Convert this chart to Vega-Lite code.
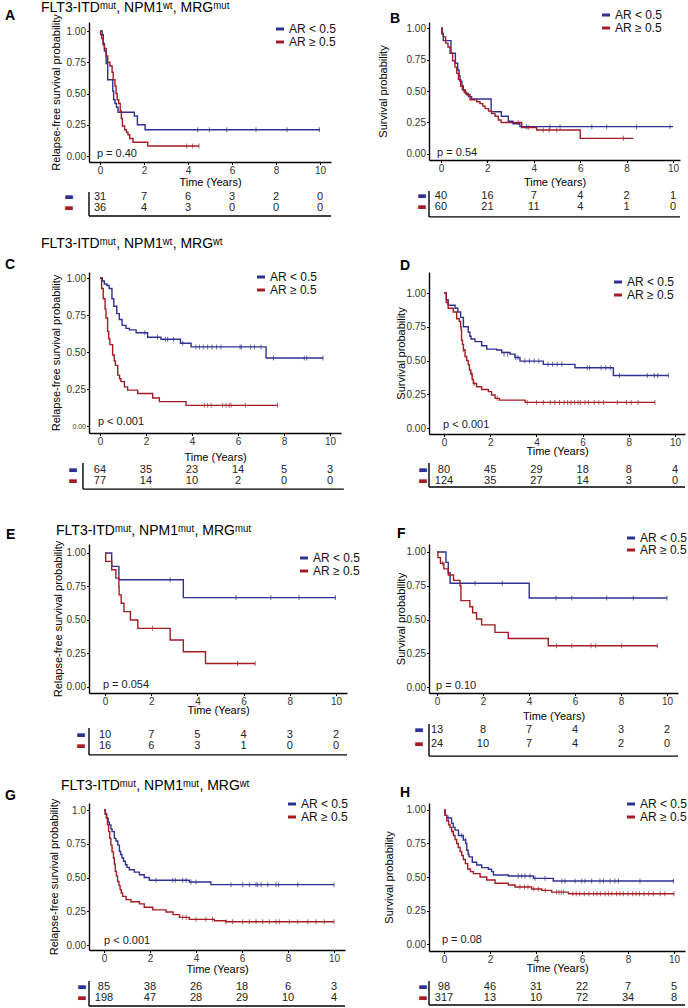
{
"$schema": "https://vega.github.io/schema/vega-lite/v6.json",
"padding": {"left": 4, "top": 1, "right": 0, "bottom": 0},
"background": "white",
"config": {
  "font": "Liberation Sans",
  "view": {"stroke": null},
  "axis": {"grid": false, "labelOverlap": false, "domainColor": "#000", "domainWidth": 1.4, "tickColor": "#000", "tickSize": 2.5, "tickWidth": 1, "labelColor": "#333", "labelFontSize": 10, "labelPadding": 1, "titleFontSize": 11, "titleFontWeight": "normal", "titleColor": "#000"},
  "legend": {"labelFontSize": 12, "labelColor": "#111", "symbolType": "stroke", "symbolStrokeWidth": 3, "symbolSize": 64, "rowPadding": 1, "labelOffset": 3, "padding": 0},
  "text": {"font": "Liberation Sans"}
},
"datasets": {
  "labels": [
    {"panel": "A", "letter": "A", "title": "FLT3-ITDᵐᵘᵗ, NPM1ʷᵗ, MRGᵐᵘᵗ", "p": "p = 0.40"},
    {"panel": "B", "letter": "B", "title": "", "p": "p = 0.54"},
    {"panel": "C", "letter": "C", "title": "FLT3-ITDᵐᵘᵗ, NPM1ʷᵗ, MRGʷᵗ", "p": "p < 0.001"},
    {"panel": "D", "letter": "D", "title": "", "p": "p < 0.001"},
    {"panel": "E", "letter": "E", "title": "FLT3-ITDᵐᵘᵗ, NPM1ᵐᵘᵗ, MRGᵐᵘᵗ", "p": "p = 0.054"},
    {"panel": "F", "letter": "F", "title": "", "p": "p = 0.10"},
    {"panel": "G", "letter": "G", "title": "FLT3-ITDᵐᵘᵗ, NPM1ᵐᵘᵗ, MRGʷᵗ", "p": "p < 0.001"},
    {"panel": "H", "letter": "H", "title": "", "p": "p = 0.08"}
  ],
  "A_km": [
    {"g":"lo","t":0,"s":1},{"g":"lo","t":0.1,"s":0.97},{"g":"lo","t":0.15,"s":0.9},{"g":"lo","t":0.2,"s":0.84},{"g":"lo","t":0.28,"s":0.74},{"g":"lo","t":0.35,"s":0.61},{"g":"lo","t":0.58,"s":0.52},{"g":"lo","t":0.62,"s":0.45},{"g":"lo","t":0.68,"s":0.42},{"g":"lo","t":0.75,"s":0.39},{"g":"lo","t":0.82,"s":0.35},{"g":"lo","t":1.56,"s":0.32},{"g":"lo","t":1.7,"s":0.25},{"g":"lo","t":2.05,"s":0.21},{"g":"lo","t":10,"s":0.21},
    {"g":"hi","t":0,"s":1},{"g":"hi","t":0.03,"s":0.97},{"g":"hi","t":0.08,"s":0.94},{"g":"hi","t":0.14,"s":0.89},{"g":"hi","t":0.2,"s":0.86},{"g":"hi","t":0.28,"s":0.8},{"g":"hi","t":0.35,"s":0.75},{"g":"hi","t":0.45,"s":0.72},{"g":"hi","t":0.55,"s":0.67},{"g":"hi","t":0.6,"s":0.61},{"g":"hi","t":0.68,"s":0.56},{"g":"hi","t":0.73,"s":0.5},{"g":"hi","t":0.78,"s":0.45},{"g":"hi","t":0.85,"s":0.42},{"g":"hi","t":0.92,"s":0.36},{"g":"hi","t":0.97,"s":0.3},{"g":"hi","t":1.02,"s":0.24},{"g":"hi","t":1.12,"s":0.21},{"g":"hi","t":1.2,"s":0.19},{"g":"hi","t":1.27,"s":0.17},{"g":"hi","t":1.35,"s":0.14},{"g":"hi","t":1.5,"s":0.11},{"g":"hi","t":2.17,"s":0.08},{"g":"hi","t":4.5,"s":0.08}
  ],
  "A_cx": [
    {"g":"lo","t":4.44,"s":0.21},{"g":"lo","t":4.97,"s":0.21},{"g":"lo","t":5.76,"s":0.21},{"g":"lo","t":7.09,"s":0.21},{"g":"lo","t":8.5,"s":0.21},{"g":"lo","t":9.97,"s":0.21},
    {"g":"hi","t":3.94,"s":0.08},{"g":"hi","t":4.2,"s":0.08},{"g":"hi","t":4.5,"s":0.08}
  ],
  "A_nr": [
    {"g":"lo","t":0,"n":31},{"g":"lo","t":2,"n":7},{"g":"lo","t":4,"n":6},{"g":"lo","t":6,"n":3},{"g":"lo","t":8,"n":2},{"g":"lo","t":10,"n":0},
    {"g":"hi","t":0,"n":36},{"g":"hi","t":2,"n":4},{"g":"hi","t":4,"n":3},{"g":"hi","t":6,"n":0},{"g":"hi","t":8,"n":0},{"g":"hi","t":10,"n":0}
  ],
  "B_km": [
    {"g":"lo","t":0,"s":1},{"g":"lo","t":0.05,"s":0.95},{"g":"lo","t":0.1,"s":0.9},{"g":"lo","t":0.43,"s":0.8},{"g":"lo","t":0.62,"s":0.72},{"g":"lo","t":0.72,"s":0.667},{"g":"lo","t":0.78,"s":0.62},{"g":"lo","t":0.82,"s":0.577},{"g":"lo","t":0.9,"s":0.54},{"g":"lo","t":0.96,"s":0.508},{"g":"lo","t":1.05,"s":0.48},{"g":"lo","t":1.18,"s":0.455},{"g":"lo","t":1.32,"s":0.437},{"g":"lo","t":2.16,"s":0.335},{"g":"lo","t":2.6,"s":0.3},{"g":"lo","t":2.9,"s":0.26},{"g":"lo","t":3.1,"s":0.24},{"g":"lo","t":3.4,"s":0.217},{"g":"lo","t":10,"s":0.217},
    {"g":"hi","t":0,"s":1},{"g":"hi","t":0.03,"s":0.96},{"g":"hi","t":0.1,"s":0.93},{"g":"hi","t":0.2,"s":0.88},{"g":"hi","t":0.3,"s":0.85},{"g":"hi","t":0.39,"s":0.8},{"g":"hi","t":0.5,"s":0.74},{"g":"hi","t":0.6,"s":0.69},{"g":"hi","t":0.68,"s":0.64},{"g":"hi","t":0.75,"s":0.59},{"g":"hi","t":0.85,"s":0.54},{"g":"hi","t":0.92,"s":0.51},{"g":"hi","t":1.0,"s":0.49},{"g":"hi","t":1.1,"s":0.47},{"g":"hi","t":1.25,"s":0.43},{"g":"hi","t":1.54,"s":0.415},{"g":"hi","t":1.68,"s":0.4},{"g":"hi","t":1.8,"s":0.38},{"g":"hi","t":1.9,"s":0.36},{"g":"hi","t":2.05,"s":0.34},{"g":"hi","t":2.18,"s":0.32},{"g":"hi","t":2.33,"s":0.3},{"g":"hi","t":2.47,"s":0.27},{"g":"hi","t":2.59,"s":0.25},{"g":"hi","t":3.48,"s":0.21},{"g":"hi","t":4.12,"s":0.19},{"g":"hi","t":6.0,"s":0.124},{"g":"hi","t":8.29,"s":0.124}
  ],
  "B_cx": [
    {"g":"lo","t":3.69,"s":0.217},{"g":"lo","t":4.7,"s":0.217},{"g":"lo","t":5.13,"s":0.217},{"g":"lo","t":6.5,"s":0.217},{"g":"lo","t":7.14,"s":0.217},{"g":"lo","t":8.43,"s":0.217},{"g":"lo","t":9.87,"s":0.217},
    {"g":"hi","t":3.33,"s":0.25},{"g":"hi","t":3.76,"s":0.21},{"g":"hi","t":4.41,"s":0.19},{"g":"hi","t":4.66,"s":0.19},{"g":"hi","t":4.99,"s":0.19},{"g":"hi","t":7.86,"s":0.124}
  ],
  "B_nr": [
    {"g":"lo","t":0,"n":40},{"g":"lo","t":2,"n":16},{"g":"lo","t":4,"n":7},{"g":"lo","t":6,"n":4},{"g":"lo","t":8,"n":2},{"g":"lo","t":10,"n":1},
    {"g":"hi","t":0,"n":60},{"g":"hi","t":2,"n":21},{"g":"hi","t":4,"n":11},{"g":"hi","t":6,"n":4},{"g":"hi","t":8,"n":1},{"g":"hi","t":10,"n":0}
  ],
  "C_km": [
    {"g":"lo","t":0,"s":1},{"g":"lo","t":0.1,"s":0.98},{"g":"lo","t":0.19,"s":0.96},{"g":"lo","t":0.3,"s":0.95},{"g":"lo","t":0.4,"s":0.93},{"g":"lo","t":0.52,"s":0.86},{"g":"lo","t":0.6,"s":0.81},{"g":"lo","t":0.73,"s":0.76},{"g":"lo","t":0.84,"s":0.72},{"g":"lo","t":0.96,"s":0.68},{"g":"lo","t":1.13,"s":0.66},{"g":"lo","t":1.28,"s":0.65},{"g":"lo","t":1.57,"s":0.63},{"g":"lo","t":2.07,"s":0.6},{"g":"lo","t":2.65,"s":0.587},{"g":"lo","t":3.5,"s":0.56},{"g":"lo","t":3.96,"s":0.535},{"g":"lo","t":7.22,"s":0.46},{"g":"lo","t":9.7,"s":0.46},
    {"g":"hi","t":0,"s":1},{"g":"hi","t":0.07,"s":0.93},{"g":"hi","t":0.14,"s":0.86},{"g":"hi","t":0.22,"s":0.79},{"g":"hi","t":0.26,"s":0.73},{"g":"hi","t":0.33,"s":0.64},{"g":"hi","t":0.38,"s":0.59},{"g":"hi","t":0.43,"s":0.55},{"g":"hi","t":0.55,"s":0.48},{"g":"hi","t":0.62,"s":0.44},{"g":"hi","t":0.67,"s":0.41},{"g":"hi","t":0.77,"s":0.344},{"g":"hi","t":0.85,"s":0.32},{"g":"hi","t":0.91,"s":0.3},{"g":"hi","t":1.06,"s":0.265},{"g":"hi","t":1.2,"s":0.243},{"g":"hi","t":1.64,"s":0.22},{"g":"hi","t":2.29,"s":0.19},{"g":"hi","t":2.58,"s":0.165},{"g":"hi","t":3.74,"s":0.14},{"g":"hi","t":7.72,"s":0.14}
  ],
  "C_cx": [
    {"g":"lo","t":1.95,"s":0.63},{"g":"lo","t":2.5,"s":0.6},{"g":"lo","t":2.84,"s":0.587},{"g":"lo","t":2.94,"s":0.587},{"g":"lo","t":3.2,"s":0.587},{"g":"lo","t":3.6,"s":0.56},{"g":"lo","t":4.17,"s":0.535},{"g":"lo","t":4.32,"s":0.535},{"g":"lo","t":4.49,"s":0.535},{"g":"lo","t":4.68,"s":0.535},{"g":"lo","t":4.87,"s":0.535},{"g":"lo","t":5.07,"s":0.535},{"g":"lo","t":5.26,"s":0.535},{"g":"lo","t":6.09,"s":0.535},{"g":"lo","t":6.15,"s":0.535},{"g":"lo","t":6.54,"s":0.535},{"g":"lo","t":6.71,"s":0.535},{"g":"lo","t":7.0,"s":0.535},{"g":"lo","t":7.54,"s":0.46},{"g":"lo","t":8.88,"s":0.46},{"g":"lo","t":8.99,"s":0.46},{"g":"lo","t":9.7,"s":0.46},
    {"g":"hi","t":4.54,"s":0.14},{"g":"hi","t":4.68,"s":0.14},{"g":"hi","t":4.83,"s":0.14},{"g":"hi","t":5.33,"s":0.14},{"g":"hi","t":5.48,"s":0.14},{"g":"hi","t":5.62,"s":0.14},{"g":"hi","t":5.7,"s":0.14},{"g":"hi","t":6.32,"s":0.14},{"g":"hi","t":7.72,"s":0.14}
  ],
  "C_nr": [
    {"g":"lo","t":0,"n":64},{"g":"lo","t":2,"n":35},{"g":"lo","t":4,"n":23},{"g":"lo","t":6,"n":14},{"g":"lo","t":8,"n":5},{"g":"lo","t":10,"n":3},
    {"g":"hi","t":0,"n":77},{"g":"hi","t":2,"n":14},{"g":"hi","t":4,"n":10},{"g":"hi","t":6,"n":2},{"g":"hi","t":8,"n":0},{"g":"hi","t":10,"n":0}
  ],
  "D_km": [
    {"g":"lo","t":0,"s":1},{"g":"lo","t":0.1,"s":0.95},{"g":"lo","t":0.18,"s":0.91},{"g":"lo","t":0.48,"s":0.887},{"g":"lo","t":0.6,"s":0.86},{"g":"lo","t":0.72,"s":0.82},{"g":"lo","t":0.84,"s":0.75},{"g":"lo","t":1.05,"s":0.71},{"g":"lo","t":1.12,"s":0.68},{"g":"lo","t":1.17,"s":0.66},{"g":"lo","t":1.34,"s":0.64},{"g":"lo","t":1.63,"s":0.61},{"g":"lo","t":1.85,"s":0.585},{"g":"lo","t":2.28,"s":0.578},{"g":"lo","t":2.5,"s":0.56},{"g":"lo","t":2.86,"s":0.548},{"g":"lo","t":3.07,"s":0.523},{"g":"lo","t":3.29,"s":0.496},{"g":"lo","t":4.3,"s":0.472},{"g":"lo","t":5.67,"s":0.447},{"g":"lo","t":7.33,"s":0.389},{"g":"lo","t":9.71,"s":0.389},
    {"g":"hi","t":0,"s":1},{"g":"hi","t":0.1,"s":0.93},{"g":"hi","t":0.18,"s":0.887},{"g":"hi","t":0.4,"s":0.86},{"g":"hi","t":0.55,"s":0.81},{"g":"hi","t":0.66,"s":0.79},{"g":"hi","t":0.72,"s":0.75},{"g":"hi","t":0.74,"s":0.726},{"g":"hi","t":0.76,"s":0.65},{"g":"hi","t":0.8,"s":0.62},{"g":"hi","t":0.84,"s":0.58},{"g":"hi","t":0.91,"s":0.53},{"g":"hi","t":0.98,"s":0.5},{"g":"hi","t":1.05,"s":0.47},{"g":"hi","t":1.1,"s":0.43},{"g":"hi","t":1.16,"s":0.4},{"g":"hi","t":1.22,"s":0.36},{"g":"hi","t":1.27,"s":0.33},{"g":"hi","t":1.41,"s":0.306},{"g":"hi","t":1.63,"s":0.286},{"g":"hi","t":1.92,"s":0.27},{"g":"hi","t":2.06,"s":0.245},{"g":"hi","t":2.21,"s":0.22},{"g":"hi","t":2.4,"s":0.207},{"g":"hi","t":3.51,"s":0.19},{"g":"hi","t":9.13,"s":0.19}
  ],
  "D_cx": [
    {"g":"lo","t":2.6,"s":0.548},{"g":"lo","t":2.75,"s":0.548},{"g":"lo","t":3.1,"s":0.523},{"g":"lo","t":3.2,"s":0.523},{"g":"lo","t":3.5,"s":0.496},{"g":"lo","t":3.7,"s":0.496},{"g":"lo","t":3.9,"s":0.496},{"g":"lo","t":4.1,"s":0.496},{"g":"lo","t":4.5,"s":0.472},{"g":"lo","t":4.7,"s":0.472},{"g":"lo","t":4.9,"s":0.472},{"g":"lo","t":5.1,"s":0.472},{"g":"lo","t":6.2,"s":0.447},{"g":"lo","t":6.3,"s":0.447},{"g":"lo","t":6.8,"s":0.447},{"g":"lo","t":7.0,"s":0.447},{"g":"lo","t":7.2,"s":0.447},{"g":"lo","t":7.6,"s":0.389},{"g":"lo","t":8.8,"s":0.389},{"g":"lo","t":9.1,"s":0.389},{"g":"lo","t":9.25,"s":0.389},{"g":"lo","t":9.71,"s":0.389},
    {"g":"hi","t":0.84,"s":0.58},{"g":"hi","t":1.2,"s":0.4},{"g":"hi","t":1.3,"s":0.33},{"g":"hi","t":2.3,"s":0.22},{"g":"hi","t":3.6,"s":0.19},{"g":"hi","t":4.0,"s":0.19},{"g":"hi","t":4.3,"s":0.19},{"g":"hi","t":4.6,"s":0.19},{"g":"hi","t":4.8,"s":0.19},{"g":"hi","t":5.0,"s":0.19},{"g":"hi","t":5.2,"s":0.19},{"g":"hi","t":5.35,"s":0.19},{"g":"hi","t":5.5,"s":0.19},{"g":"hi","t":5.65,"s":0.19},{"g":"hi","t":5.8,"s":0.19},{"g":"hi","t":5.9,"s":0.19},{"g":"hi","t":6.1,"s":0.19},{"g":"hi","t":6.25,"s":0.19},{"g":"hi","t":6.5,"s":0.19},{"g":"hi","t":6.7,"s":0.19},{"g":"hi","t":6.9,"s":0.19},{"g":"hi","t":7.5,"s":0.19},{"g":"hi","t":7.9,"s":0.19},{"g":"hi","t":8.1,"s":0.19},{"g":"hi","t":8.4,"s":0.19},{"g":"hi","t":9.13,"s":0.19}
  ],
  "D_nr": [
    {"g":"lo","t":0,"n":80},{"g":"lo","t":2,"n":45},{"g":"lo","t":4,"n":29},{"g":"lo","t":6,"n":18},{"g":"lo","t":8,"n":8},{"g":"lo","t":10,"n":4},
    {"g":"hi","t":0,"n":124},{"g":"hi","t":2,"n":35},{"g":"hi","t":4,"n":27},{"g":"hi","t":6,"n":14},{"g":"hi","t":8,"n":3},{"g":"hi","t":10,"n":0}
  ],
  "E_km": [
    {"g":"lo","t":0,"s":1},{"g":"lo","t":0.29,"s":0.9},{"g":"lo","t":0.6,"s":0.8},{"g":"lo","t":3.39,"s":0.667},{"g":"lo","t":10,"s":0.667},
    {"g":"hi","t":0,"s":1},{"g":"hi","t":0.03,"s":0.9375},{"g":"hi","t":0.29,"s":0.875},{"g":"hi","t":0.47,"s":0.8125},{"g":"hi","t":0.6,"s":0.75},{"g":"hi","t":0.61,"s":0.6875},{"g":"hi","t":0.7,"s":0.625},{"g":"hi","t":0.82,"s":0.5625},{"g":"hi","t":1.1,"s":0.5},{"g":"hi","t":1.42,"s":0.4375},{"g":"hi","t":2.82,"s":0.35},{"g":"hi","t":3.39,"s":0.2625},{"g":"hi","t":4.35,"s":0.175},{"g":"hi","t":6.5,"s":0.175}
  ],
  "E_cx": [
    {"g":"lo","t":2.82,"s":0.8},{"g":"lo","t":5.67,"s":0.667},{"g":"lo","t":7.18,"s":0.667},{"g":"lo","t":8.4,"s":0.667},{"g":"lo","t":9.97,"s":0.667},
    {"g":"hi","t":2.06,"s":0.4375},{"g":"hi","t":5.74,"s":0.175},{"g":"hi","t":6.5,"s":0.175}
  ],
  "E_nr": [
    {"g":"lo","t":0,"n":10},{"g":"lo","t":2,"n":7},{"g":"lo","t":4,"n":5},{"g":"lo","t":6,"n":4},{"g":"lo","t":8,"n":3},{"g":"lo","t":10,"n":2},
    {"g":"hi","t":0,"n":16},{"g":"hi","t":2,"n":6},{"g":"hi","t":4,"n":3},{"g":"hi","t":6,"n":1},{"g":"hi","t":8,"n":0},{"g":"hi","t":10,"n":0}
  ],
  "F_km": [
    {"g":"lo","t":0,"s":1},{"g":"lo","t":0.39,"s":0.923},{"g":"lo","t":0.49,"s":0.846},{"g":"lo","t":0.57,"s":0.769},{"g":"lo","t":4.01,"s":0.659},{"g":"lo","t":10,"s":0.659},
    {"g":"hi","t":0,"s":1},{"g":"hi","t":0.04,"s":0.958},{"g":"hi","t":0.15,"s":0.917},{"g":"hi","t":0.3,"s":0.875},{"g":"hi","t":0.49,"s":0.83},{"g":"hi","t":0.72,"s":0.79},{"g":"hi","t":1.0,"s":0.75},{"g":"hi","t":1.04,"s":0.64},{"g":"hi","t":1.43,"s":0.595},{"g":"hi","t":1.55,"s":0.55},{"g":"hi","t":1.72,"s":0.504},{"g":"hi","t":1.94,"s":0.46},{"g":"hi","t":2.52,"s":0.405},{"g":"hi","t":3.1,"s":0.36},{"g":"hi","t":4.84,"s":0.306},{"g":"hi","t":9.58,"s":0.306}
  ],
  "F_cx": [
    {"g":"lo","t":1.65,"s":0.769},{"g":"lo","t":2.84,"s":0.769},{"g":"lo","t":5.17,"s":0.659},{"g":"lo","t":5.86,"s":0.659},{"g":"lo","t":7.38,"s":0.659},{"g":"lo","t":8.54,"s":0.659},{"g":"lo","t":10,"s":0.659},
    {"g":"hi","t":0.25,"s":0.917},{"g":"hi","t":5.2,"s":0.306},{"g":"hi","t":5.86,"s":0.306},{"g":"hi","t":6.7,"s":0.306},{"g":"hi","t":6.9,"s":0.306},{"g":"hi","t":8.03,"s":0.306},{"g":"hi","t":9.58,"s":0.306}
  ],
  "F_nr": [
    {"g":"lo","t":0,"n":13},{"g":"lo","t":2,"n":8},{"g":"lo","t":4,"n":7},{"g":"lo","t":6,"n":4},{"g":"lo","t":8,"n":3},{"g":"lo","t":10,"n":2},
    {"g":"hi","t":0,"n":24},{"g":"hi","t":2,"n":10},{"g":"hi","t":4,"n":7},{"g":"hi","t":6,"n":4},{"g":"hi","t":8,"n":2},{"g":"hi","t":10,"n":0}
  ],
  "G_km": [
    {"g":"lo","t":0,"s":1},{"g":"lo","t":0.06,"s":0.97},{"g":"lo","t":0.12,"s":0.94},{"g":"lo","t":0.18,"s":0.91},{"g":"lo","t":0.23,"s":0.89},{"g":"lo","t":0.3,"s":0.86},{"g":"lo","t":0.35,"s":0.84},{"g":"lo","t":0.45,"s":0.79},{"g":"lo","t":0.52,"s":0.77},{"g":"lo","t":0.6,"s":0.74},{"g":"lo","t":0.67,"s":0.695},{"g":"lo","t":0.72,"s":0.67},{"g":"lo","t":0.78,"s":0.645},{"g":"lo","t":0.85,"s":0.62},{"g":"lo","t":0.93,"s":0.594},{"g":"lo","t":1.0,"s":0.575},{"g":"lo","t":1.1,"s":0.558},{"g":"lo","t":1.32,"s":0.54},{"g":"lo","t":1.54,"s":0.52},{"g":"lo","t":1.75,"s":0.5},{"g":"lo","t":1.97,"s":0.48},{"g":"lo","t":3.71,"s":0.467},{"g":"lo","t":4.65,"s":0.447},{"g":"lo","t":10,"s":0.447},
    {"g":"hi","t":0,"s":1},{"g":"hi","t":0.05,"s":0.97},{"g":"hi","t":0.1,"s":0.94},{"g":"hi","t":0.15,"s":0.89},{"g":"hi","t":0.2,"s":0.84},{"g":"hi","t":0.25,"s":0.79},{"g":"hi","t":0.3,"s":0.74},{"g":"hi","t":0.35,"s":0.69},{"g":"hi","t":0.41,"s":0.645},{"g":"hi","t":0.45,"s":0.6},{"g":"hi","t":0.49,"s":0.546},{"g":"hi","t":0.54,"s":0.51},{"g":"hi","t":0.59,"s":0.47},{"g":"hi","t":0.65,"s":0.44},{"g":"hi","t":0.7,"s":0.41},{"g":"hi","t":0.75,"s":0.385},{"g":"hi","t":0.81,"s":0.36},{"g":"hi","t":0.96,"s":0.336},{"g":"hi","t":1.17,"s":0.32},{"g":"hi","t":1.54,"s":0.305},{"g":"hi","t":1.75,"s":0.28},{"g":"hi","t":2.12,"s":0.26},{"g":"hi","t":2.7,"s":0.245},{"g":"hi","t":3.0,"s":0.225},{"g":"hi","t":3.28,"s":0.205},{"g":"hi","t":3.71,"s":0.19},{"g":"hi","t":4.8,"s":0.18},{"g":"hi","t":5.3,"s":0.172},{"g":"hi","t":10,"s":0.172}
  ],
  "G_cx": [
    {"g":"lo","t":2.26,"s":0.48},{"g":"lo","t":2.99,"s":0.48},{"g":"lo","t":3.1,"s":0.48},{"g":"lo","t":3.42,"s":0.48},{"g":"lo","t":3.57,"s":0.48},{"g":"lo","t":3.78,"s":0.467},{"g":"lo","t":4.0,"s":0.467},{"g":"lo","t":5.52,"s":0.447},{"g":"lo","t":6.03,"s":0.447},{"g":"lo","t":6.32,"s":0.447},{"g":"lo","t":6.61,"s":0.447},{"g":"lo","t":6.68,"s":0.447},{"g":"lo","t":6.83,"s":0.447},{"g":"lo","t":7.12,"s":0.447},{"g":"lo","t":7.48,"s":0.447},{"g":"lo","t":7.59,"s":0.447},{"g":"lo","t":8.42,"s":0.447},{"g":"lo","t":10,"s":0.447},
    {"g":"hi","t":3.42,"s":0.205},{"g":"hi","t":3.57,"s":0.205},{"g":"hi","t":4.0,"s":0.19},{"g":"hi","t":4.43,"s":0.19},{"g":"hi","t":4.72,"s":0.19},{"g":"hi","t":5.3,"s":0.172},{"g":"hi","t":5.59,"s":0.172},{"g":"hi","t":6.03,"s":0.172},{"g":"hi","t":6.32,"s":0.172},{"g":"hi","t":6.61,"s":0.172},{"g":"hi","t":6.9,"s":0.172},{"g":"hi","t":7.19,"s":0.172},{"g":"hi","t":7.48,"s":0.172},{"g":"hi","t":7.62,"s":0.172},{"g":"hi","t":8.06,"s":0.172},{"g":"hi","t":8.42,"s":0.172},{"g":"hi","t":8.86,"s":0.172},{"g":"hi","t":9.22,"s":0.172},{"g":"hi","t":9.58,"s":0.172},{"g":"hi","t":10,"s":0.172}
  ],
  "G_nr": [
    {"g":"lo","t":0,"n":85},{"g":"lo","t":2,"n":38},{"g":"lo","t":4,"n":26},{"g":"lo","t":6,"n":18},{"g":"lo","t":8,"n":6},{"g":"lo","t":10,"n":3},
    {"g":"hi","t":0,"n":198},{"g":"hi","t":2,"n":47},{"g":"hi","t":4,"n":28},{"g":"hi","t":6,"n":29},{"g":"hi","t":8,"n":10},{"g":"hi","t":10,"n":4}
  ],
  "H_km": [
    {"g":"lo","t":0,"s":1},{"g":"lo","t":0.04,"s":0.96},{"g":"lo","t":0.12,"s":0.94},{"g":"lo","t":0.33,"s":0.9},{"g":"lo","t":0.4,"s":0.87},{"g":"lo","t":0.48,"s":0.85},{"g":"lo","t":0.63,"s":0.81},{"g":"lo","t":0.84,"s":0.776},{"g":"lo","t":0.94,"s":0.75},{"g":"lo","t":0.99,"s":0.7},{"g":"lo","t":1.05,"s":0.67},{"g":"lo","t":1.09,"s":0.65},{"g":"lo","t":1.23,"s":0.61},{"g":"lo","t":1.42,"s":0.59},{"g":"lo","t":1.64,"s":0.57},{"g":"lo","t":1.93,"s":0.558},{"g":"lo","t":2.07,"s":0.54},{"g":"lo","t":2.15,"s":0.515},{"g":"lo","t":2.8,"s":0.507},{"g":"lo","t":3.89,"s":0.49},{"g":"lo","t":4.75,"s":0.47},{"g":"lo","t":10,"s":0.47},
    {"g":"hi","t":0,"s":1},{"g":"hi","t":0.05,"s":0.96},{"g":"hi","t":0.12,"s":0.92},{"g":"hi","t":0.2,"s":0.89},{"g":"hi","t":0.26,"s":0.87},{"g":"hi","t":0.33,"s":0.84},{"g":"hi","t":0.41,"s":0.81},{"g":"hi","t":0.48,"s":0.78},{"g":"hi","t":0.55,"s":0.75},{"g":"hi","t":0.62,"s":0.72},{"g":"hi","t":0.7,"s":0.69},{"g":"hi","t":0.77,"s":0.66},{"g":"hi","t":0.84,"s":0.63},{"g":"hi","t":0.93,"s":0.6},{"g":"hi","t":1.03,"s":0.56},{"g":"hi","t":1.15,"s":0.54},{"g":"hi","t":1.28,"s":0.525},{"g":"hi","t":1.57,"s":0.5},{"g":"hi","t":1.86,"s":0.478},{"g":"hi","t":2.22,"s":0.453},{"g":"hi","t":2.8,"s":0.44},{"g":"hi","t":3.09,"s":0.425},{"g":"hi","t":3.81,"s":0.41},{"g":"hi","t":4.25,"s":0.4},{"g":"hi","t":4.68,"s":0.387},{"g":"hi","t":5.41,"s":0.375},{"g":"hi","t":10,"s":0.375}
  ],
  "H_cx": [
    {"g":"lo","t":0.19,"s":0.94},{"g":"lo","t":0.77,"s":0.81},{"g":"lo","t":0.94,"s":0.776},{"g":"lo","t":3.23,"s":0.507},{"g":"lo","t":3.38,"s":0.507},{"g":"lo","t":3.52,"s":0.507},{"g":"lo","t":3.74,"s":0.507},{"g":"lo","t":3.96,"s":0.49},{"g":"lo","t":4.39,"s":0.49},{"g":"lo","t":5.12,"s":0.47},{"g":"lo","t":5.26,"s":0.47},{"g":"lo","t":5.7,"s":0.47},{"g":"lo","t":5.99,"s":0.47},{"g":"lo","t":6.13,"s":0.47},{"g":"lo","t":6.42,"s":0.47},{"g":"lo","t":6.78,"s":0.47},{"g":"lo","t":6.93,"s":0.47},{"g":"lo","t":7.22,"s":0.47},{"g":"lo","t":7.43,"s":0.47},{"g":"lo","t":7.58,"s":0.47},{"g":"lo","t":8.52,"s":0.47},{"g":"lo","t":9.97,"s":0.47},
    {"g":"hi","t":0.35,"s":0.84},{"g":"hi","t":3.3,"s":0.425},{"g":"hi","t":3.5,"s":0.425},{"g":"hi","t":3.65,"s":0.425},{"g":"hi","t":3.9,"s":0.41},{"g":"hi","t":4.1,"s":0.41},{"g":"hi","t":4.4,"s":0.4},{"g":"hi","t":4.9,"s":0.387},{"g":"hi","t":5.0,"s":0.387},{"g":"hi","t":5.1,"s":0.387},{"g":"hi","t":5.2,"s":0.387},{"g":"hi","t":5.6,"s":0.375},{"g":"hi","t":5.75,"s":0.375},{"g":"hi","t":5.9,"s":0.375},{"g":"hi","t":6.1,"s":0.375},{"g":"hi","t":6.3,"s":0.375},{"g":"hi","t":6.5,"s":0.375},{"g":"hi","t":6.65,"s":0.375},{"g":"hi","t":6.8,"s":0.375},{"g":"hi","t":7.0,"s":0.375},{"g":"hi","t":7.15,"s":0.375},{"g":"hi","t":7.3,"s":0.375},{"g":"hi","t":7.5,"s":0.375},{"g":"hi","t":7.65,"s":0.375},{"g":"hi","t":7.8,"s":0.375},{"g":"hi","t":8.0,"s":0.375},{"g":"hi","t":8.2,"s":0.375},{"g":"hi","t":8.35,"s":0.375},{"g":"hi","t":8.5,"s":0.375},{"g":"hi","t":8.7,"s":0.375},{"g":"hi","t":8.9,"s":0.375},{"g":"hi","t":9.1,"s":0.375},{"g":"hi","t":9.4,"s":0.375},{"g":"hi","t":9.6,"s":0.375},{"g":"hi","t":10,"s":0.375}
  ],
  "H_nr": [
    {"g":"lo","t":0,"n":98},{"g":"lo","t":2,"n":46},{"g":"lo","t":4,"n":31},{"g":"lo","t":6,"n":22},{"g":"lo","t":8,"n":7},{"g":"lo","t":10,"n":5},
    {"g":"hi","t":0,"n":317},{"g":"hi","t":2,"n":13},{"g":"hi","t":4,"n":10},{"g":"hi","t":6,"n":72},{"g":"hi","t":8,"n":34},{"g":"hi","t":10,"n":8}
  ]
},
"columns": 2,
"bounds": "flush",
"align": "each",
"spacing": {"row": 110, "column": 82},
"resolve": {"scale": {"color": "independent"}, "legend": {"color": "independent"}},
"concat": [
 {"width": 242, "height": 140,
  "layer": [
    {"data": {"name": "A_km"}, "mark": {"type": "line", "interpolate": "step-after", "strokeWidth": 1.4},
     "encoding": {
      "x": {"field": "t", "type": "quantitative", "scale": {"domain": [-0.5, 10.5], "nice": false, "zero": false}, "axis": {"values": [0,2,4,6,8,10], "title": "Time (Years)", "titlePadding": 1}},
      "y": {"field": "s", "type": "quantitative", "scale": {"domain": [-0.048, 1.072], "nice": false, "zero": false}, "axis": {"values": [0,0.25,0.5,0.75,1], "format": ".2f", "title": "Relapse-free survival probability", "titlePadding": 5}},
      "color": {"field": "g", "type": "nominal", "scale": {"domain": ["lo","hi"], "range": ["#2e3192","#a51d24"]}, "legend": {"orient": "none", "legendX": 185, "legendY": 1, "title": null, "labelExpr": "datum.value == 'lo' ? 'AR < 0.5' : 'AR ≥ 0.5'"}}}},
    {"data": {"name": "A_cx"}, "mark": {"type": "tick", "orient": "vertical", "size": 5, "thickness": 1},
     "encoding": {"x": {"field": "t", "type": "quantitative"}, "y": {"field": "s", "type": "quantitative", "axis": {"values": [0,0.25,0.5,0.75,1], "format": ".2f", "title": "Relapse-free survival probability", "titlePadding": 5}}, "color": {"field": "g", "type": "nominal", "legend": null}}},
    {"data": {"name": "A_nr"}, "transform": [{"filter": "datum.g == 'lo'"}], "mark": {"type": "text", "fontSize": 11, "color": "#222"},
     "encoding": {"x": {"field": "t", "type": "quantitative"}, "y": {"datum": -0.328, "axis": {"values": [0,0.25,0.5,0.75,1], "format": ".2f", "title": "Relapse-free survival probability", "titlePadding": 5}}, "text": {"field": "n", "type": "quantitative"}}},
    {"data": {"name": "A_nr"}, "transform": [{"filter": "datum.g == 'hi'"}], "mark": {"type": "text", "fontSize": 11, "color": "#222"},
     "encoding": {"x": {"field": "t", "type": "quantitative"}, "y": {"datum": -0.416, "axis": {"values": [0,0.25,0.5,0.75,1], "format": ".2f", "title": "Relapse-free survival probability", "titlePadding": 5}}, "text": {"field": "n", "type": "quantitative"}}},
    {"data": {"name": "labels"}, "transform": [{"filter": "datum.panel == 'A'"}], "mark": {"type": "text", "text": "▬", "font": "DejaVu Sans", "fontSize": 10, "color": "#2e3192"},
     "encoding": {"x": {"datum": -1.41}, "y": {"datum": -0.328, "axis": {"values": [0,0.25,0.5,0.75,1], "format": ".2f", "title": "Relapse-free survival probability", "titlePadding": 5}}}},
    {"data": {"name": "labels"}, "transform": [{"filter": "datum.panel == 'A'"}], "mark": {"type": "text", "text": "▬", "font": "DejaVu Sans", "fontSize": 10, "color": "#a51d24"},
     "encoding": {"x": {"datum": -1.41}, "y": {"datum": -0.416, "axis": {"values": [0,0.25,0.5,0.75,1], "format": ".2f", "title": "Relapse-free survival probability", "titlePadding": 5}}}},
    {"data": {"name": "labels"}, "transform": [{"filter": "datum.panel == 'A'"}], "mark": {"type": "rule", "strokeWidth": 1.4, "color": "#000"},
     "encoding": {"x": {"datum": -0.5}, "y": {"datum": -0.288, "axis": {"values": [0,0.25,0.5,0.75,1], "format": ".2f", "title": "Relapse-free survival probability", "titlePadding": 5}}, "y2": {"datum": -0.48}}},
    {"data": {"name": "labels"}, "transform": [{"filter": "datum.panel == 'A'"}], "mark": {"type": "rule", "strokeWidth": 1.4, "color": "#000"},
     "encoding": {"x": {"datum": -0.5}, "x2": {"datum": 10.5}, "y": {"datum": -0.48, "axis": {"values": [0,0.25,0.5,0.75,1], "format": ".2f", "title": "Relapse-free survival probability", "titlePadding": 5}}}},
    {"data": {"name": "labels"}, "transform": [{"filter": "datum.panel == 'A'"}], "mark": {"type": "text", "align": "left", "baseline": "alphabetic", "fontSize": 14, "fontWeight": "bold", "color": "#000"},
     "encoding": {"x": {"datum": -4.32}, "y": {"datum": 1.088, "axis": {"values": [0,0.25,0.5,0.75,1], "format": ".2f", "title": "Relapse-free survival probability", "titlePadding": 5}}, "text": {"field": "letter", "type": "nominal"}}},
    {"data": {"name": "labels"}, "transform": [{"filter": "datum.panel == 'A'"}], "mark": {"type": "text", "align": "left", "baseline": "alphabetic", "fontSize": 14, "color": "#000"},
     "encoding": {"x": {"datum": -2.68}, "y": {"datum": 1.152, "axis": {"values": [0,0.25,0.5,0.75,1], "format": ".2f", "title": "Relapse-free survival probability", "titlePadding": 5}}, "text": {"field": "title", "type": "nominal"}}},
    {"data": {"name": "labels"}, "transform": [{"filter": "datum.panel == 'A'"}], "mark": {"type": "text", "align": "left", "baseline": "middle", "fontSize": 11, "color": "#222"},
     "encoding": {"x": {"datum": -0.14}, "y": {"datum": 0.016, "axis": {"values": [0,0.25,0.5,0.75,1], "format": ".2f", "title": "Relapse-free survival probability", "titlePadding": 5}}, "text": {"field": "p", "type": "nominal"}}}
  ]},
 {"width": 251, "height": 138,
  "layer": [
    {"data": {"name": "B_km"}, "mark": {"type": "line", "interpolate": "step-after", "strokeWidth": 1.4},
     "encoding": {
      "x": {"field": "t", "type": "quantitative", "scale": {"domain": [-0.517, 10.3], "nice": false, "zero": false}, "axis": {"values": [0,2,4,6,8,10], "title": "Time (Years)", "titlePadding": 3}},
      "y": {"field": "s", "type": "quantitative", "scale": {"domain": [-0.048, 1.048], "nice": false, "zero": false}, "axis": {"values": [0,0.25,0.5,0.75,1], "format": ".2f", "title": "Survival probability", "titlePadding": 18}},
      "color": {"field": "g", "type": "nominal", "scale": {"domain": ["lo","hi"], "range": ["#2e3192","#a51d24"]}, "legend": {"orient": "none", "legendX": 171, "legendY": -13, "title": null, "labelExpr": "datum.value == 'lo' ? 'AR < 0.5' : 'AR ≥ 0.5'"}}}},
    {"data": {"name": "B_cx"}, "mark": {"type": "tick", "orient": "vertical", "size": 5, "thickness": 1},
     "encoding": {"x": {"field": "t", "type": "quantitative"}, "y": {"field": "s", "type": "quantitative", "axis": {"values": [0,0.25,0.5,0.75,1], "format": ".2f", "title": "Survival probability", "titlePadding": 18}}, "color": {"field": "g", "type": "nominal", "legend": null}}},
    {"data": {"name": "B_nr"}, "transform": [{"filter": "datum.g == 'lo'"}], "mark": {"type": "text", "fontSize": 11, "color": "#222"},
     "encoding": {"x": {"field": "t", "type": "quantitative"}, "y": {"datum": -0.333, "axis": {"values": [0,0.25,0.5,0.75,1], "format": ".2f", "title": "Survival probability", "titlePadding": 18}}, "text": {"field": "n", "type": "quantitative"}}},
    {"data": {"name": "B_nr"}, "transform": [{"filter": "datum.g == 'hi'"}], "mark": {"type": "text", "fontSize": 11, "color": "#222"},
     "encoding": {"x": {"field": "t", "type": "quantitative"}, "y": {"datum": -0.421, "axis": {"values": [0,0.25,0.5,0.75,1], "format": ".2f", "title": "Survival probability", "titlePadding": 18}}, "text": {"field": "n", "type": "quantitative"}}},
    {"data": {"name": "labels"}, "transform": [{"filter": "datum.panel == 'B'"}], "mark": {"type": "text", "text": "▬", "font": "DejaVu Sans", "fontSize": 10, "color": "#2e3192"},
     "encoding": {"x": {"datum": -0.82}, "y": {"datum": -0.333, "axis": {"values": [0,0.25,0.5,0.75,1], "format": ".2f", "title": "Survival probability", "titlePadding": 18}}}},
    {"data": {"name": "labels"}, "transform": [{"filter": "datum.panel == 'B'"}], "mark": {"type": "text", "text": "▬", "font": "DejaVu Sans", "fontSize": 10, "color": "#a51d24"},
     "encoding": {"x": {"datum": -0.82}, "y": {"datum": -0.421, "axis": {"values": [0,0.25,0.5,0.75,1], "format": ".2f", "title": "Survival probability", "titlePadding": 18}}}},
    {"data": {"name": "labels"}, "transform": [{"filter": "datum.panel == 'B'"}], "mark": {"type": "rule", "strokeWidth": 1.4, "color": "#000"},
     "encoding": {"x": {"datum": -0.517}, "y": {"datum": -0.294, "axis": {"values": [0,0.25,0.5,0.75,1], "format": ".2f", "title": "Survival probability", "titlePadding": 18}}, "y2": {"datum": -0.5}}},
    {"data": {"name": "labels"}, "transform": [{"filter": "datum.panel == 'B'"}], "mark": {"type": "rule", "strokeWidth": 1.4, "color": "#000"},
     "encoding": {"x": {"datum": -0.517}, "x2": {"datum": 10.3}, "y": {"datum": -0.5, "axis": {"values": [0,0.25,0.5,0.75,1], "format": ".2f", "title": "Survival probability", "titlePadding": 18}}}},
    {"data": {"name": "labels"}, "transform": [{"filter": "datum.panel == 'B'"}], "mark": {"type": "text", "align": "left", "baseline": "alphabetic", "fontSize": 14, "fontWeight": "bold", "color": "#000"},
     "encoding": {"x": {"datum": -2.2}, "y": {"datum": 1.04, "axis": {"values": [0,0.25,0.5,0.75,1], "format": ".2f", "title": "Survival probability", "titlePadding": 18}}, "text": {"field": "letter", "type": "nominal"}}},
    {"data": {"name": "labels"}, "transform": [{"filter": "datum.panel == 'B'"}], "mark": {"type": "text", "align": "left", "baseline": "middle", "fontSize": 11, "color": "#222"},
     "encoding": {"x": {"datum": -0.17}, "y": {"datum": 0.01, "axis": {"values": [0,0.25,0.5,0.75,1], "format": ".2f", "title": "Survival probability", "titlePadding": 18}}, "text": {"field": "p", "type": "nominal"}}}
  ]},
 {"width": 252, "height": 161,
  "layer": [
    {"data": {"name": "C_km"}, "mark": {"type": "line", "interpolate": "step-after", "strokeWidth": 1.4},
     "encoding": {
      "x": {"field": "t", "type": "quantitative", "scale": {"domain": [-0.478, 10.478], "nice": false, "zero": false}, "axis": {"values": [0,2,4,6,8,10], "title": "Time (Years)", "titlePadding": 5}},
      "y": {"field": "s", "type": "quantitative", "scale": {"domain": [-0.047, 1.041], "nice": false, "zero": false}, "axis": {"values": [0,0.25,0.5,0.75,1], "format": ".2f", "title": "Relapse-free survival probability", "titlePadding": 5, "labelFontSize": {"condition": {"test": "datum.value == 0", "value": 7}, "value": 10}}},
      "color": {"field": "g", "type": "nominal", "scale": {"domain": ["lo","hi"], "range": ["#2e3192","#a51d24"]}, "legend": {"orient": "none", "legendX": 166, "legendY": -1, "title": null, "labelExpr": "datum.value == 'lo' ? 'AR < 0.5' : 'AR ≥ 0.5'"}}}},
    {"data": {"name": "C_cx"}, "mark": {"type": "tick", "orient": "vertical", "size": 5, "thickness": 1},
     "encoding": {"x": {"field": "t", "type": "quantitative"}, "y": {"field": "s", "type": "quantitative", "axis": {"values": [0,0.25,0.5,0.75,1], "format": ".2f", "title": "Relapse-free survival probability", "titlePadding": 5}}, "color": {"field": "g", "type": "nominal", "legend": null}}},
    {"data": {"name": "C_nr"}, "transform": [{"filter": "datum.g == 'lo'"}], "mark": {"type": "text", "fontSize": 11, "color": "#222"},
     "encoding": {"x": {"field": "t", "type": "quantitative"}, "y": {"datum": -0.297, "axis": {"values": [0,0.25,0.5,0.75,1], "format": ".2f", "title": "Relapse-free survival probability", "titlePadding": 5}}, "text": {"field": "n", "type": "quantitative"}}},
    {"data": {"name": "C_nr"}, "transform": [{"filter": "datum.g == 'hi'"}], "mark": {"type": "text", "fontSize": 11, "color": "#222"},
     "encoding": {"x": {"field": "t", "type": "quantitative"}, "y": {"datum": -0.372, "axis": {"values": [0,0.25,0.5,0.75,1], "format": ".2f", "title": "Relapse-free survival probability", "titlePadding": 5}}, "text": {"field": "n", "type": "quantitative"}}},
    {"data": {"name": "labels"}, "transform": [{"filter": "datum.panel == 'C'"}], "mark": {"type": "text", "text": "▬", "font": "DejaVu Sans", "fontSize": 10, "color": "#2e3192"},
     "encoding": {"x": {"datum": -1.17}, "y": {"datum": -0.297, "axis": {"values": [0,0.25,0.5,0.75,1], "format": ".2f", "title": "Relapse-free survival probability", "titlePadding": 5}}}},
    {"data": {"name": "labels"}, "transform": [{"filter": "datum.panel == 'C'"}], "mark": {"type": "text", "text": "▬", "font": "DejaVu Sans", "fontSize": 10, "color": "#a51d24"},
     "encoding": {"x": {"datum": -1.17}, "y": {"datum": -0.372, "axis": {"values": [0,0.25,0.5,0.75,1], "format": ".2f", "title": "Relapse-free survival probability", "titlePadding": 5}}}},
    {"data": {"name": "labels"}, "transform": [{"filter": "datum.panel == 'C'"}], "mark": {"type": "rule", "strokeWidth": 1.4, "color": "#000"},
     "encoding": {"x": {"datum": -0.74}, "y": {"datum": -0.25, "axis": {"values": [0,0.25,0.5,0.75,1], "format": ".2f", "title": "Relapse-free survival probability", "titlePadding": 5}}, "y2": {"datum": -0.426}}},
    {"data": {"name": "labels"}, "transform": [{"filter": "datum.panel == 'C'"}], "mark": {"type": "rule", "strokeWidth": 1.4, "color": "#000"},
     "encoding": {"x": {"datum": -0.74}, "x2": {"datum": 10.6}, "y": {"datum": -0.426, "axis": {"values": [0,0.25,0.5,0.75,1], "format": ".2f", "title": "Relapse-free survival probability", "titlePadding": 5}}}},
    {"data": {"name": "labels"}, "transform": [{"filter": "datum.panel == 'C'"}], "mark": {"type": "text", "align": "left", "baseline": "alphabetic", "fontSize": 14, "fontWeight": "bold", "color": "#000"},
     "encoding": {"x": {"datum": -4.13}, "y": {"datum": 1.061, "axis": {"values": [0,0.25,0.5,0.75,1], "format": ".2f", "title": "Relapse-free survival probability", "titlePadding": 5}}, "text": {"field": "letter", "type": "nominal"}}},
    {"data": {"name": "labels"}, "transform": [{"filter": "datum.panel == 'C'"}], "mark": {"type": "text", "align": "left", "baseline": "alphabetic", "fontSize": 14, "color": "#000"},
     "encoding": {"x": {"datum": -2.57}, "y": {"datum": 1.203, "axis": {"values": [0,0.25,0.5,0.75,1], "format": ".2f", "title": "Relapse-free survival probability", "titlePadding": 5}}, "text": {"field": "title", "type": "nominal"}}},
    {"data": {"name": "labels"}, "transform": [{"filter": "datum.panel == 'C'"}], "mark": {"type": "text", "align": "left", "baseline": "middle", "fontSize": 11, "color": "#222"},
     "encoding": {"x": {"datum": -0.09}, "y": {"datum": 0.027, "axis": {"values": [0,0.25,0.5,0.75,1], "format": ".2f", "title": "Relapse-free survival probability", "titlePadding": 5}}, "text": {"field": "p", "type": "nominal"}}}
  ]},
 {"width": 256, "height": 162,
  "layer": [
    {"data": {"name": "D_km"}, "mark": {"type": "line", "interpolate": "step-after", "strokeWidth": 1.4},
     "encoding": {
      "x": {"field": "t", "type": "quantitative", "scale": {"domain": [-0.649, 10.43], "nice": false, "zero": false}, "axis": {"values": [0,2,4,6,8,10], "title": "Time (Years)", "titlePadding": -2}},
      "y": {"field": "s", "type": "quantitative", "scale": {"domain": [-0.044, 1.156], "nice": false, "zero": false}, "axis": {"values": [0,0.25,0.5,0.75,1], "format": ".2f", "title": "Survival probability", "titlePadding": 0}},
      "color": {"field": "g", "type": "nominal", "scale": {"domain": ["lo","hi"], "range": ["#2e3192","#a51d24"]}, "legend": {"orient": "none", "legendX": 183, "legendY": 4, "title": null, "labelExpr": "datum.value == 'lo' ? 'AR < 0.5' : 'AR ≥ 0.5'"}}}},
    {"data": {"name": "D_cx"}, "mark": {"type": "tick", "orient": "vertical", "size": 5, "thickness": 1},
     "encoding": {"x": {"field": "t", "type": "quantitative"}, "y": {"field": "s", "type": "quantitative", "axis": {"values": [0,0.25,0.5,0.75,1], "format": ".2f", "title": "Survival probability", "titlePadding": 0}}, "color": {"field": "g", "type": "nominal", "legend": null}}},
    {"data": {"name": "D_nr"}, "transform": [{"filter": "datum.g == 'lo'"}], "mark": {"type": "text", "fontSize": 11, "color": "#222"},
     "encoding": {"x": {"field": "t", "type": "quantitative"}, "y": {"datum": -0.311, "axis": {"values": [0,0.25,0.5,0.75,1], "format": ".2f", "title": "Survival probability", "titlePadding": 0}}, "text": {"field": "n", "type": "quantitative"}}},
    {"data": {"name": "D_nr"}, "transform": [{"filter": "datum.g == 'hi'"}], "mark": {"type": "text", "fontSize": 11, "color": "#222"},
     "encoding": {"x": {"field": "t", "type": "quantitative"}, "y": {"datum": -0.393, "axis": {"values": [0,0.25,0.5,0.75,1], "format": ".2f", "title": "Survival probability", "titlePadding": 0}}, "text": {"field": "n", "type": "quantitative"}}},
    {"data": {"name": "labels"}, "transform": [{"filter": "datum.panel == 'D'"}], "mark": {"type": "text", "text": "▬", "font": "DejaVu Sans", "fontSize": 10, "color": "#2e3192"},
     "encoding": {"x": {"datum": -0.91}, "y": {"datum": -0.311, "axis": {"values": [0,0.25,0.5,0.75,1], "format": ".2f", "title": "Survival probability", "titlePadding": 0}}}},
    {"data": {"name": "labels"}, "transform": [{"filter": "datum.panel == 'D'"}], "mark": {"type": "text", "text": "▬", "font": "DejaVu Sans", "fontSize": 10, "color": "#a51d24"},
     "encoding": {"x": {"datum": -0.91}, "y": {"datum": -0.393, "axis": {"values": [0,0.25,0.5,0.75,1], "format": ".2f", "title": "Survival probability", "titlePadding": 0}}}},
    {"data": {"name": "labels"}, "transform": [{"filter": "datum.panel == 'D'"}], "mark": {"type": "rule", "strokeWidth": 1.4, "color": "#000"},
     "encoding": {"x": {"datum": -0.649}, "y": {"datum": -0.259, "axis": {"values": [0,0.25,0.5,0.75,1], "format": ".2f", "title": "Survival probability", "titlePadding": 0}}, "y2": {"datum": -0.437}}},
    {"data": {"name": "labels"}, "transform": [{"filter": "datum.panel == 'D'"}], "mark": {"type": "rule", "strokeWidth": 1.4, "color": "#000"},
     "encoding": {"x": {"datum": -0.649}, "x2": {"datum": 10.43}, "y": {"datum": -0.437, "axis": {"values": [0,0.25,0.5,0.75,1], "format": ".2f", "title": "Survival probability", "titlePadding": 0}}}},
    {"data": {"name": "labels"}, "transform": [{"filter": "datum.panel == 'D'"}], "mark": {"type": "text", "align": "left", "baseline": "alphabetic", "fontSize": 14, "fontWeight": "bold", "color": "#000"},
     "encoding": {"x": {"datum": -1.9}, "y": {"datum": 1.17, "axis": {"values": [0,0.25,0.5,0.75,1], "format": ".2f", "title": "Survival probability", "titlePadding": 0}}, "text": {"field": "letter", "type": "nominal"}}},
    {"data": {"name": "labels"}, "transform": [{"filter": "datum.panel == 'D'"}], "mark": {"type": "text", "align": "left", "baseline": "middle", "fontSize": 11, "color": "#222"},
     "encoding": {"x": {"datum": -0.04}, "y": {"datum": 0.022, "axis": {"values": [0,0.25,0.5,0.75,1], "format": ".2f", "title": "Survival probability", "titlePadding": 0}}, "text": {"field": "p", "type": "nominal"}}}
  ]},
 {"width": 258, "height": 149,
  "layer": [
    {"data": {"name": "E_km"}, "mark": {"type": "line", "interpolate": "step-after", "strokeWidth": 1.4},
     "encoding": {
      "x": {"field": "t", "type": "quantitative", "scale": {"domain": [-0.693, 10.476], "nice": false, "zero": false}, "axis": {"values": [0,2,4,6,8,10], "title": "Time (Years)", "titlePadding": -2}},
      "y": {"field": "s", "type": "quantitative", "scale": {"domain": [-0.045, 1.067], "nice": false, "zero": false}, "axis": {"values": [0,0.25,0.5,0.75,1], "format": ".2f", "title": "Relapse-free survival probability", "titlePadding": 3}},
      "color": {"field": "g", "type": "nominal", "scale": {"domain": ["lo","hi"], "range": ["#2e3192","#a51d24"]}, "legend": {"orient": "none", "legendX": 209, "legendY": 8, "title": null, "labelExpr": "datum.value == 'lo' ? 'AR < 0.5' : 'AR ≥ 0.5'"}}}},
    {"data": {"name": "E_cx"}, "mark": {"type": "tick", "orient": "vertical", "size": 5, "thickness": 1},
     "encoding": {"x": {"field": "t", "type": "quantitative"}, "y": {"field": "s", "type": "quantitative", "axis": {"values": [0,0.25,0.5,0.75,1], "format": ".2f", "title": "Relapse-free survival probability", "titlePadding": 3}}, "color": {"field": "g", "type": "nominal", "legend": null}}},
    {"data": {"name": "E_nr"}, "transform": [{"filter": "datum.g == 'lo'"}], "mark": {"type": "text", "fontSize": 11, "color": "#222"},
     "encoding": {"x": {"field": "t", "type": "quantitative"}, "y": {"datum": -0.358, "axis": {"values": [0,0.25,0.5,0.75,1], "format": ".2f", "title": "Relapse-free survival probability", "titlePadding": 3}}, "text": {"field": "n", "type": "quantitative"}}},
    {"data": {"name": "E_nr"}, "transform": [{"filter": "datum.g == 'hi'"}], "mark": {"type": "text", "fontSize": 11, "color": "#222"},
     "encoding": {"x": {"field": "t", "type": "quantitative"}, "y": {"datum": -0.44, "axis": {"values": [0,0.25,0.5,0.75,1], "format": ".2f", "title": "Relapse-free survival probability", "titlePadding": 3}}, "text": {"field": "n", "type": "quantitative"}}},
    {"data": {"name": "labels"}, "transform": [{"filter": "datum.panel == 'E'"}], "mark": {"type": "text", "text": "▬", "font": "DejaVu Sans", "fontSize": 10, "color": "#2e3192"},
     "encoding": {"x": {"datum": -1.04}, "y": {"datum": -0.358, "axis": {"values": [0,0.25,0.5,0.75,1], "format": ".2f", "title": "Relapse-free survival probability", "titlePadding": 3}}}},
    {"data": {"name": "labels"}, "transform": [{"filter": "datum.panel == 'E'"}], "mark": {"type": "text", "text": "▬", "font": "DejaVu Sans", "fontSize": 10, "color": "#a51d24"},
     "encoding": {"x": {"datum": -1.04}, "y": {"datum": -0.44, "axis": {"values": [0,0.25,0.5,0.75,1], "format": ".2f", "title": "Relapse-free survival probability", "titlePadding": 3}}}},
    {"data": {"name": "labels"}, "transform": [{"filter": "datum.panel == 'E'"}], "mark": {"type": "rule", "strokeWidth": 1.4, "color": "#000"},
     "encoding": {"x": {"datum": -0.693}, "y": {"datum": -0.306, "axis": {"values": [0,0.25,0.5,0.75,1], "format": ".2f", "title": "Relapse-free survival probability", "titlePadding": 3}}, "y2": {"datum": -0.507}}},
    {"data": {"name": "labels"}, "transform": [{"filter": "datum.panel == 'E'"}], "mark": {"type": "rule", "strokeWidth": 1.4, "color": "#000"},
     "encoding": {"x": {"datum": -0.693}, "x2": {"datum": 10.476}, "y": {"datum": -0.507, "axis": {"values": [0,0.25,0.5,0.75,1], "format": ".2f", "title": "Relapse-free survival probability", "titlePadding": 3}}}},
    {"data": {"name": "labels"}, "transform": [{"filter": "datum.panel == 'E'"}], "mark": {"type": "text", "align": "left", "baseline": "alphabetic", "fontSize": 14, "fontWeight": "bold", "color": "#000"},
     "encoding": {"x": {"datum": -4.29}, "y": {"datum": 1.104, "axis": {"values": [0,0.25,0.5,0.75,1], "format": ".2f", "title": "Relapse-free survival probability", "titlePadding": 3}}, "text": {"field": "letter", "type": "nominal"}}},
    {"data": {"name": "labels"}, "transform": [{"filter": "datum.panel == 'E'"}], "mark": {"type": "text", "align": "left", "baseline": "alphabetic", "fontSize": 14, "color": "#000"},
     "encoding": {"x": {"datum": -2.12}, "y": {"datum": 1.134, "axis": {"values": [0,0.25,0.5,0.75,1], "format": ".2f", "title": "Relapse-free survival probability", "titlePadding": 3}}, "text": {"field": "title", "type": "nominal"}}},
    {"data": {"name": "labels"}, "transform": [{"filter": "datum.panel == 'E'"}], "mark": {"type": "text", "align": "left", "baseline": "middle", "fontSize": 11, "color": "#222"},
     "encoding": {"x": {"datum": -0.09}, "y": {"datum": 0.015, "axis": {"values": [0,0.25,0.5,0.75,1], "format": ".2f", "title": "Relapse-free survival probability", "titlePadding": 3}}, "text": {"field": "p", "type": "nominal"}}}
  ]},
 {"width": 249, "height": 149,
  "layer": [
    {"data": {"name": "F_km"}, "mark": {"type": "line", "interpolate": "step-after", "strokeWidth": 1.4},
     "encoding": {
      "x": {"field": "t", "type": "quantitative", "scale": {"domain": [-0.348, 10.48], "nice": false, "zero": false}, "axis": {"values": [0,2,4,6,8,10], "title": "Time (Years)", "titlePadding": 4}},
      "y": {"field": "s", "type": "quantitative", "scale": {"domain": [-0.044, 1.059], "nice": false, "zero": false}, "axis": {"values": [0,0.25,0.5,0.75,1], "format": ".2f", "title": "Survival probability", "titlePadding": 0}},
      "color": {"field": "g", "type": "nominal", "scale": {"domain": ["lo","hi"], "range": ["#2e3192","#a51d24"]}, "legend": {"orient": "none", "legendX": 196, "legendY": -12, "rowPadding": -2, "title": null, "labelExpr": "datum.value == 'lo' ? 'AR < 0.5' : 'AR ≥ 0.5'"}}}},
    {"data": {"name": "F_cx"}, "mark": {"type": "tick", "orient": "vertical", "size": 5, "thickness": 1},
     "encoding": {"x": {"field": "t", "type": "quantitative"}, "y": {"field": "s", "type": "quantitative", "axis": {"values": [0,0.25,0.5,0.75,1], "format": ".2f", "title": "Survival probability", "titlePadding": 0}}, "color": {"field": "g", "type": "nominal", "legend": null}}},
    {"data": {"name": "F_nr"}, "transform": [{"filter": "datum.g == 'lo'"}], "mark": {"type": "text", "fontSize": 11, "color": "#222"},
     "encoding": {"x": {"field": "t", "type": "quantitative"}, "y": {"datum": -0.319, "axis": {"values": [0,0.25,0.5,0.75,1], "format": ".2f", "title": "Survival probability", "titlePadding": 0}}, "text": {"field": "n", "type": "quantitative"}}},
    {"data": {"name": "F_nr"}, "transform": [{"filter": "datum.g == 'hi'"}], "mark": {"type": "text", "fontSize": 11, "color": "#222"},
     "encoding": {"x": {"field": "t", "type": "quantitative"}, "y": {"datum": -0.422, "axis": {"values": [0,0.25,0.5,0.75,1], "format": ".2f", "title": "Survival probability", "titlePadding": 0}}, "text": {"field": "n", "type": "quantitative"}}},
    {"data": {"name": "labels"}, "transform": [{"filter": "datum.panel == 'F'"}], "mark": {"type": "text", "text": "▬", "font": "DejaVu Sans", "fontSize": 10, "color": "#2e3192"},
     "encoding": {"x": {"datum": -0.78}, "y": {"datum": -0.319, "axis": {"values": [0,0.25,0.5,0.75,1], "format": ".2f", "title": "Survival probability", "titlePadding": 0}}}},
    {"data": {"name": "labels"}, "transform": [{"filter": "datum.panel == 'F'"}], "mark": {"type": "text", "text": "▬", "font": "DejaVu Sans", "fontSize": 10, "color": "#a51d24"},
     "encoding": {"x": {"datum": -0.78}, "y": {"datum": -0.422, "axis": {"values": [0,0.25,0.5,0.75,1], "format": ".2f", "title": "Survival probability", "titlePadding": 0}}}},
    {"data": {"name": "labels"}, "transform": [{"filter": "datum.panel == 'F'"}], "mark": {"type": "rule", "strokeWidth": 1.4, "color": "#000"},
     "encoding": {"x": {"datum": -0.348}, "y": {"datum": -0.274, "axis": {"values": [0,0.25,0.5,0.75,1], "format": ".2f", "title": "Survival probability", "titlePadding": 0}}, "y2": {"datum": -0.511}}},
    {"data": {"name": "labels"}, "transform": [{"filter": "datum.panel == 'F'"}], "mark": {"type": "rule", "strokeWidth": 1.4, "color": "#000"},
     "encoding": {"x": {"datum": -0.348}, "x2": {"datum": 10.48}, "y": {"datum": -0.511, "axis": {"values": [0,0.25,0.5,0.75,1], "format": ".2f", "title": "Survival probability", "titlePadding": 0}}}},
    {"data": {"name": "labels"}, "transform": [{"filter": "datum.panel == 'F'"}], "mark": {"type": "text", "align": "left", "baseline": "alphabetic", "fontSize": 14, "fontWeight": "bold", "color": "#000"},
     "encoding": {"x": {"datum": -1.74}, "y": {"datum": 1.104, "axis": {"values": [0,0.25,0.5,0.75,1], "format": ".2f", "title": "Survival probability", "titlePadding": 0}}, "text": {"field": "letter", "type": "nominal"}}},
    {"data": {"name": "labels"}, "transform": [{"filter": "datum.panel == 'F'"}], "mark": {"type": "text", "align": "left", "baseline": "middle", "fontSize": 11, "color": "#222"},
     "encoding": {"x": {"datum": -0.04}, "y": {"datum": 0.007, "axis": {"values": [0,0.25,0.5,0.75,1], "format": ".2f", "title": "Survival probability", "titlePadding": 0}}, "text": {"field": "p", "type": "nominal"}}}
  ]},
 {"width": 256, "height": 147,
  "layer": [
    {"data": {"name": "G_km"}, "mark": {"type": "line", "interpolate": "step-after", "strokeWidth": 1.4},
     "encoding": {
      "x": {"field": "t", "type": "quantitative", "scale": {"domain": [-0.652, 10.478], "nice": false, "zero": false}, "axis": {"values": [0,2,4,6,8,10], "title": "Time (Years)", "titlePadding": 0}},
      "y": {"field": "s", "type": "quantitative", "scale": {"domain": [-0.037, 1.052], "nice": false, "zero": false}, "axis": {"values": [0,0.25,0.5,0.75,1], "labelExpr": "datum.value == 1 ? '1.0' : format(datum.value, '.2f')", "title": "Relapse-free survival probability", "titlePadding": 7}},
      "color": {"field": "g", "type": "nominal", "scale": {"domain": ["lo","hi"], "range": ["#2e3192","#a51d24"]}, "legend": {"orient": "none", "legendX": 197, "legendY": -5, "title": null, "labelExpr": "datum.value == 'lo' ? 'AR < 0.5' : 'AR ≥ 0.5'"}}}},
    {"data": {"name": "G_cx"}, "mark": {"type": "tick", "orient": "vertical", "size": 5, "thickness": 1},
     "encoding": {"x": {"field": "t", "type": "quantitative"}, "y": {"field": "s", "type": "quantitative", "axis": {"values": [0,0.25,0.5,0.75,1], "labelExpr": "datum.value == 1 ? '1.0' : format(datum.value, '.2f')", "title": "Relapse-free survival probability", "titlePadding": 7}}, "color": {"field": "g", "type": "nominal", "legend": null}}},
    {"data": {"name": "G_nr"}, "transform": [{"filter": "datum.g == 'lo'"}], "mark": {"type": "text", "fontSize": 11, "color": "#222"},
     "encoding": {"x": {"field": "t", "type": "quantitative"}, "y": {"datum": -0.311, "axis": {"values": [0,0.25,0.5,0.75,1], "labelExpr": "datum.value == 1 ? '1.0' : format(datum.value, '.2f')", "title": "Relapse-free survival probability", "titlePadding": 7}}, "text": {"field": "n", "type": "quantitative"}}},
    {"data": {"name": "G_nr"}, "transform": [{"filter": "datum.g == 'hi'"}], "mark": {"type": "text", "fontSize": 11, "color": "#222"},
     "encoding": {"x": {"field": "t", "type": "quantitative"}, "y": {"datum": -0.393, "axis": {"values": [0,0.25,0.5,0.75,1], "labelExpr": "datum.value == 1 ? '1.0' : format(datum.value, '.2f')", "title": "Relapse-free survival probability", "titlePadding": 7}}, "text": {"field": "n", "type": "quantitative"}}},
    {"data": {"name": "labels"}, "transform": [{"filter": "datum.panel == 'G'"}], "mark": {"type": "text", "text": "▬", "font": "DejaVu Sans", "fontSize": 10, "color": "#2e3192"},
     "encoding": {"x": {"datum": -0.96}, "y": {"datum": -0.311, "axis": {"values": [0,0.25,0.5,0.75,1], "labelExpr": "datum.value == 1 ? '1.0' : format(datum.value, '.2f')", "title": "Relapse-free survival probability", "titlePadding": 7}}}},
    {"data": {"name": "labels"}, "transform": [{"filter": "datum.panel == 'G'"}], "mark": {"type": "text", "text": "▬", "font": "DejaVu Sans", "fontSize": 10, "color": "#a51d24"},
     "encoding": {"x": {"datum": -0.96}, "y": {"datum": -0.393, "axis": {"values": [0,0.25,0.5,0.75,1], "labelExpr": "datum.value == 1 ? '1.0' : format(datum.value, '.2f')", "title": "Relapse-free survival probability", "titlePadding": 7}}}},
    {"data": {"name": "labels"}, "transform": [{"filter": "datum.panel == 'G'"}], "mark": {"type": "rule", "strokeWidth": 1.4, "color": "#000"},
     "encoding": {"x": {"datum": -0.652}, "y": {"datum": -0.267, "axis": {"values": [0,0.25,0.5,0.75,1], "labelExpr": "datum.value == 1 ? '1.0' : format(datum.value, '.2f')", "title": "Relapse-free survival probability", "titlePadding": 7}}, "y2": {"datum": -0.452}}},
    {"data": {"name": "labels"}, "transform": [{"filter": "datum.panel == 'G'"}], "mark": {"type": "rule", "strokeWidth": 1.4, "color": "#000"},
     "encoding": {"x": {"datum": -0.652}, "x2": {"datum": 10.478}, "y": {"datum": -0.452, "axis": {"values": [0,0.25,0.5,0.75,1], "labelExpr": "datum.value == 1 ? '1.0' : format(datum.value, '.2f')", "title": "Relapse-free survival probability", "titlePadding": 7}}}},
    {"data": {"name": "labels"}, "transform": [{"filter": "datum.panel == 'G'"}], "mark": {"type": "text", "align": "left", "baseline": "alphabetic", "fontSize": 14, "fontWeight": "bold", "color": "#000"},
     "encoding": {"x": {"datum": -4.3}, "y": {"datum": 1.074, "axis": {"values": [0,0.25,0.5,0.75,1], "labelExpr": "datum.value == 1 ? '1.0' : format(datum.value, '.2f')", "title": "Relapse-free survival probability", "titlePadding": 7}}, "text": {"field": "letter", "type": "nominal"}}},
    {"data": {"name": "labels"}, "transform": [{"filter": "datum.panel == 'G'"}], "mark": {"type": "text", "align": "left", "baseline": "alphabetic", "fontSize": 14, "color": "#000"},
     "encoding": {"x": {"datum": -1.87}, "y": {"datum": 1.148, "axis": {"values": [0,0.25,0.5,0.75,1], "labelExpr": "datum.value == 1 ? '1.0' : format(datum.value, '.2f')", "title": "Relapse-free survival probability", "titlePadding": 7}}, "text": {"field": "title", "type": "nominal"}}},
    {"data": {"name": "labels"}, "transform": [{"filter": "datum.panel == 'G'"}], "mark": {"type": "text", "align": "left", "baseline": "middle", "fontSize": 11, "color": "#222"},
     "encoding": {"x": {"datum": 0}, "y": {"datum": 0.03, "axis": {"values": [0,0.25,0.5,0.75,1], "labelExpr": "datum.value == 1 ? '1.0' : format(datum.value, '.2f')", "title": "Relapse-free survival probability", "titlePadding": 7}}, "text": {"field": "p", "type": "nominal"}}}
  ]},
 {"width": 256, "height": 148,
  "layer": [
    {"data": {"name": "H_km"}, "mark": {"type": "line", "interpolate": "step-after", "strokeWidth": 1.4},
     "encoding": {
      "x": {"field": "t", "type": "quantitative", "scale": {"domain": [-0.652, 10.478], "nice": false, "zero": false}, "axis": {"values": [0,2,4,6,8,10], "title": "Time (Years)", "titlePadding": -2}},
      "y": {"field": "s", "type": "quantitative", "scale": {"domain": [-0.052, 1.052], "nice": false, "zero": false}, "axis": {"values": [0,0.25,0.5,0.75,1], "format": ".2f", "title": "Survival probability", "titlePadding": 12}},
      "color": {"field": "g", "type": "nominal", "scale": {"domain": ["lo","hi"], "range": ["#2e3192","#a51d24"]}, "legend": {"orient": "none", "legendX": 196, "legendY": -5, "title": null, "labelExpr": "datum.value == 'lo' ? 'AR < 0.5' : 'AR ≥ 0.5'"}}}},
    {"data": {"name": "H_cx"}, "mark": {"type": "tick", "orient": "vertical", "size": 5, "thickness": 1},
     "encoding": {"x": {"field": "t", "type": "quantitative"}, "y": {"field": "s", "type": "quantitative", "axis": {"values": [0,0.25,0.5,0.75,1], "format": ".2f", "title": "Survival probability", "titlePadding": 12}}, "color": {"field": "g", "type": "nominal", "legend": null}}},
    {"data": {"name": "H_nr"}, "transform": [{"filter": "datum.g == 'lo'"}], "mark": {"type": "text", "fontSize": 11, "color": "#222"},
     "encoding": {"x": {"field": "t", "type": "quantitative"}, "y": {"datum": -0.321, "axis": {"values": [0,0.25,0.5,0.75,1], "format": ".2f", "title": "Survival probability", "titlePadding": 12}}, "text": {"field": "n", "type": "quantitative"}}},
    {"data": {"name": "H_nr"}, "transform": [{"filter": "datum.g == 'hi'"}], "mark": {"type": "text", "fontSize": 11, "color": "#222"},
     "encoding": {"x": {"field": "t", "type": "quantitative"}, "y": {"datum": -0.403, "axis": {"values": [0,0.25,0.5,0.75,1], "format": ".2f", "title": "Survival probability", "titlePadding": 12}}, "text": {"field": "n", "type": "quantitative"}}},
    {"data": {"name": "labels"}, "transform": [{"filter": "datum.panel == 'H'"}], "mark": {"type": "text", "text": "▬", "font": "DejaVu Sans", "fontSize": 10, "color": "#2e3192"},
     "encoding": {"x": {"datum": -0.91}, "y": {"datum": -0.321, "axis": {"values": [0,0.25,0.5,0.75,1], "format": ".2f", "title": "Survival probability", "titlePadding": 12}}}},
    {"data": {"name": "labels"}, "transform": [{"filter": "datum.panel == 'H'"}], "mark": {"type": "text", "text": "▬", "font": "DejaVu Sans", "fontSize": 10, "color": "#a51d24"},
     "encoding": {"x": {"datum": -0.91}, "y": {"datum": -0.403, "axis": {"values": [0,0.25,0.5,0.75,1], "format": ".2f", "title": "Survival probability", "titlePadding": 12}}}},
    {"data": {"name": "labels"}, "transform": [{"filter": "datum.panel == 'H'"}], "mark": {"type": "rule", "strokeWidth": 1.4, "color": "#000"},
     "encoding": {"x": {"datum": -0.652}, "y": {"datum": -0.276, "axis": {"values": [0,0.25,0.5,0.75,1], "format": ".2f", "title": "Survival probability", "titlePadding": 12}}, "y2": {"datum": -0.455}}},
    {"data": {"name": "labels"}, "transform": [{"filter": "datum.panel == 'H'"}], "mark": {"type": "rule", "strokeWidth": 1.4, "color": "#000"},
     "encoding": {"x": {"datum": -0.652}, "x2": {"datum": 10.478}, "y": {"datum": -0.455, "axis": {"values": [0,0.25,0.5,0.75,1], "format": ".2f", "title": "Survival probability", "titlePadding": 12}}}},
    {"data": {"name": "labels"}, "transform": [{"filter": "datum.panel == 'H'"}], "mark": {"type": "text", "align": "left", "baseline": "alphabetic", "fontSize": 14, "fontWeight": "bold", "color": "#000"},
     "encoding": {"x": {"datum": -1.91}, "y": {"datum": 1.097, "axis": {"values": [0,0.25,0.5,0.75,1], "format": ".2f", "title": "Survival probability", "titlePadding": 12}}, "text": {"field": "letter", "type": "nominal"}}},
    {"data": {"name": "labels"}, "transform": [{"filter": "datum.panel == 'H'"}], "mark": {"type": "text", "align": "left", "baseline": "middle", "fontSize": 11, "color": "#222"},
     "encoding": {"x": {"datum": -0.09}, "y": {"datum": 0.03, "axis": {"values": [0,0.25,0.5,0.75,1], "format": ".2f", "title": "Survival probability", "titlePadding": 12}}, "text": {"field": "p", "type": "nominal"}}}
  ]}
]
}
